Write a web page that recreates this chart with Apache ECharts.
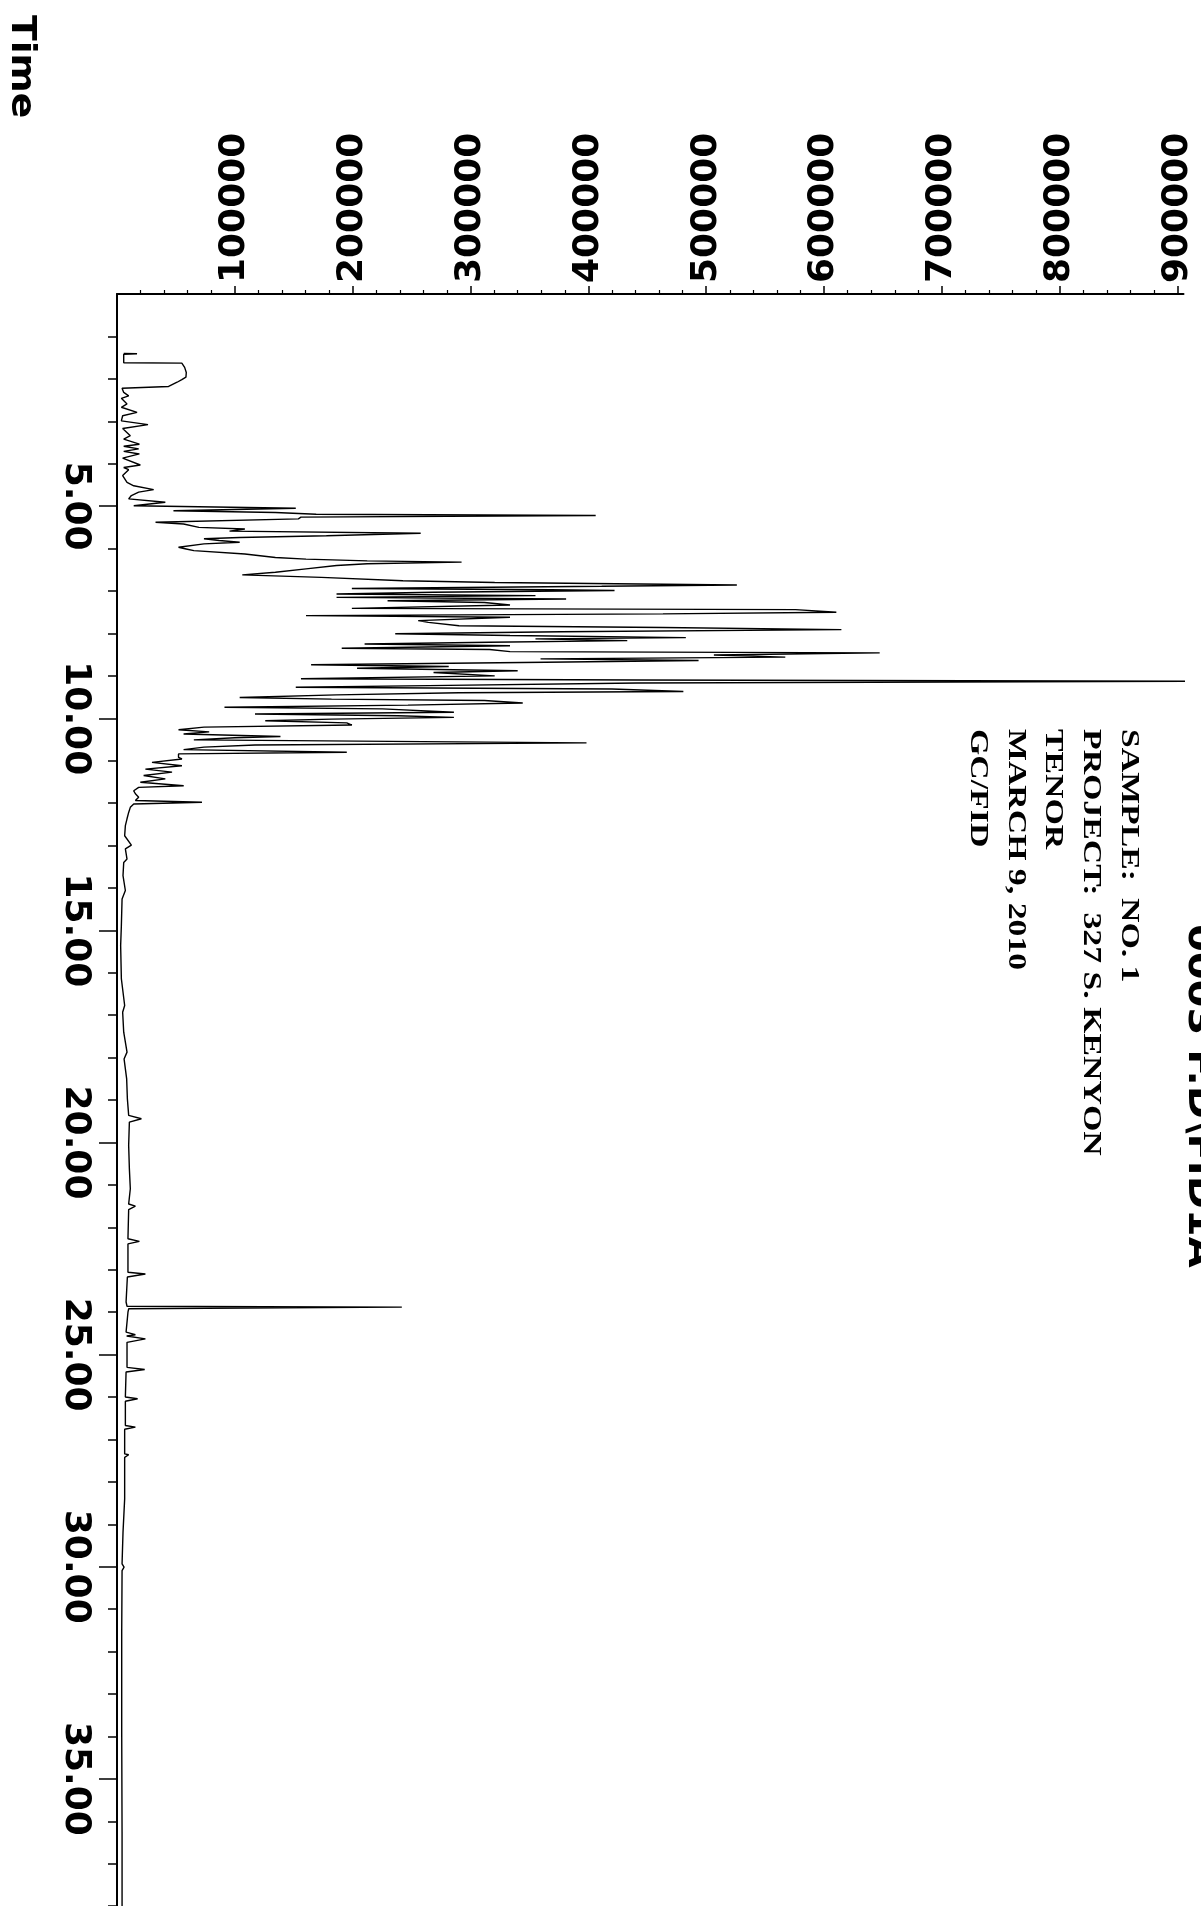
<!DOCTYPE html>
<html><head><meta charset="utf-8">
<script src="https://cdn.jsdelivr.net/npm/echarts@6/dist/echarts.min.js"></script>
<style>html,body{margin:0;padding:0;background:#fff}#c{width:1201px;height:1906px}</style>
</head><body><div id="c"></div>
<script>
// retention time (min)
const timeMin = [
1.40,1.41,1.42,1.62,1.63,1.73,1.85,1.96,2.02,2.08,2.18,2.22,2.32,2.40,2.46,2.59,2.67,2.79,2.87,2.99,
3.08,3.17,3.34,3.42,3.54,3.59,3.65,3.71,3.77,3.87,4.03,4.09,4.14,4.28,4.44,4.52,4.61,4.67,4.75,4.83,
4.91,4.99,5.03,
5.05,5.11,5.15,5.19,5.22,5.26,5.30,5.38,5.42,5.50,5.54,5.59,5.64,5.70,5.74,5.77,5.81,5.85,5.89,5.97,
6.01,6.05,6.13,6.21,6.25,6.29,6.32,6.36,6.40,6.48,6.56,6.62,6.68,6.76,6.80,6.86,6.89,6.94,6.97,6.99,
7.03,7.07,7.11,7.15,7.19,7.23,7.27,7.33,7.41,7.44,7.50,7.54,7.58,7.62,7.70,7.74,7.82,7.86,7.91,7.96,
8.01,8.05,8.10,8.13,8.17,8.21,8.25,8.29,8.35,8.38,8.43,8.46,8.51,8.56,8.60,8.64,8.68,8.74,8.78,8.82,
8.88,8.92,9.00,9.07,9.10,9.13,9.17,9.23,9.27,9.31,9.37,9.40,9.45,9.51,9.55,9.58,9.64,9.69,9.74,9.78,
9.86,9.90,9.94,9.98,10.02,10.06,10.11,10.16,10.21,10.27,10.32,10.37,10.43,10.46,10.51,10.58,10.63,10.68,10.74,10.80,
10.84,10.92,
10.96,11.04,11.12,11.20,11.27,11.35,11.43,11.51,11.59,11.63,11.71,11.78,11.86,11.94,11.98,12.02,12.10,12.22,12.37,12.53,
12.77,12.99,13.08,13.32,13.40,13.71,14.06,14.26,14.89,15.36,16.14,16.77,16.93,17.40,17.87,18.03,
18.50,18.97,19.36,19.44,19.52,20.07,20.62,21.09,21.45,21.50,21.58,22.27,22.33,22.39,23.06,23.10,23.17,23.76,23.86,23.88,
23.92,24.00,24.47,24.53,24.56,24.63,24.71,25.30,25.35,25.41,26.00,26.04,26.10,26.67,26.71,26.76,27.34,27.36,27.42,28.40,
29.19,29.93,30.01,30.09,31.54,33.90,36.26,38.00
];
// abundance (counts)
const abundance = [
5700,17000,5700,5700,55000,57400,58800,58500,55000,51000,43800,4300,5700,9900,3700,8500,3700,17000,4800,3700,
26300,4800,11300,5700,19000,5700,18400,5700,19000,4800,19800,5700,9900,4800,8500,14200,31100,18400,12200,9900,
41000,14200,12700,
151700,47900,134400,169000,406200,156100,153900,32700,56500,69500,108500,95500,257700,177700,104100,73800,86800,104100,73800,52200,
58700,65200,108500,134400,160400,212300,292400,212300,186300,160400,134400,106300,173400,242600,320500,526000,411300,199300,368100,422200,
268600,186300,355100,186300,381100,229600,311800,333500,199300,575800,610400,463300,160400,333500,255600,264200,290200,463300,614700,376700,
236100,333500,482700,355100,433000,316200,210100,333500,190700,316200,333500,647200,506500,567100,359400,493500,363700,164700,281500,203700,
340000,268600,320500,156100,441600,915000,441600,264200,151700,420000,480600,290200,186300,104100,182000,311800,344300,246900,91200,225300,
285900,117100,238300,285900,182000,125800,195000,199300,73800,52200,78200,56500,138700,99800,65200,398400,117100,73800,56500,195000,
52200,52200,
55100,29700,55100,24100,46700,22600,41000,19800,56600,18400,14200,15600,18400,15600,72100,14200,11300,9900,8500,7100,
6500,12200,7100,8500,5700,5100,7100,4300,3700,3100,3700,6500,4800,5700,8500,6000,
8200,8800,9900,20700,10500,9900,10500,11300,9900,15600,9900,9300,19000,9300,9300,24100,8800,7700,8500,241700,
9900,9300,7700,15600,8200,24100,8500,8500,23500,7700,7100,17500,7100,7100,15600,6500,6500,9900,6500,6500,
5100,4300,6000,4300,4000,4000,4300,4300
];
const abundanceTickValues = [100000,200000,300000,400000,500000,600000,700000,800000,900000];
const abundanceTickLabels = ['100000','200000','300000','400000','500000','600000','700000','800000','900000'];
const timeTickValues = [5,10,15,20,25,30,35];
const timeTickLabels = ['5.00','10.00','15.00','20.00','25.00','30.00','35.00'];
const infoLines = ['SAMPLE:  NO. 1','PROJECT:  327 S. KENYON','TENOR','MARCH 9, 2010','GC/FID'];
const titleText = '0003 F.D\\FID1A';
const axisName = 'Time';

const chart = echarts.init(document.getElementById('c'), null, {renderer:'canvas'});
const pts = timeMin.map((t,i)=>[abundance[i], t]);
const lab = (vals, labels) => v => { const i = vals.indexOf(Math.round(v*1000)/1000); return i>=0 ? labels[i] : ''; };
const infoX = [1128.5, 1090.5, 1053, 1016, 978];
const rot = -Math.PI/2;
const txt = (x,y,text,font,sx) => ({type:'text', x, y, rotation:rot, scaleX:sx, silent:true,
  style:{text, font, fill:'#000', align:'left', verticalAlign:'middle', textAlign:'left', textVerticalAlign:'middle'}});

chart.setOption({
  animation:false,
  backgroundColor:'#fff',
  grid:{left:117, right:17.5, top:294, bottom:-85, containLabel:false, outerBoundsMode:'none'},
  xAxis:{type:'value', position:'top', min:0, max:905000, interval:100000,
    axisLine:{onZero:false, lineStyle:{color:'#000', width:2}},
    axisTick:{show:true, length:8, customValues:abundanceTickValues, lineStyle:{color:'#000', width:1.5}},
    minorTick:{show:true, splitNumber:5, length:4, lineStyle:{color:'#000', width:1.2}},
    splitLine:{show:false},
    axisLabel:{rotate:-90, margin:11, fontSize:36, fontWeight:'bold', fontFamily:'DejaVu Sans', color:'#000',
      align:'left', verticalAlign:'middle', customValues:abundanceTickValues,
      formatter: lab(abundanceTickValues, abundanceTickLabels)}},
  yAxis:{type:'value', inverse:true, min:0, max:40, interval:5,
    axisLine:{onZero:false, lineStyle:{color:'#000', width:2}},
    axisTick:{show:true, length:18, customValues:timeTickValues, lineStyle:{color:'#000', width:1.5}},
    minorTick:{show:true, splitNumber:5, length:9, lineStyle:{color:'#000', width:1.5}},
    splitLine:{show:false},
    axisLabel:{rotate:-90, margin:24, fontSize:36, fontWeight:'bold', fontFamily:'DejaVu Sans', color:'#000',
      customValues:timeTickValues, formatter: lab(timeTickValues, timeTickLabels)}},
  series:[{type:'line', data:pts, showSymbol:false, symbol:'none', clip:true, silent:true,
    lineStyle:{color:'#000', width:1.4}}],
  graphic:[
    txt(21, 15, axisName, 'bold 33px "DejaVu Sans"', 1.14),
    txt(1198.5, 924, titleText, 'bold 36px "DejaVu Sans"', 1.11),
    ...infoLines.map((s,i)=>txt(infoX[i], 729, s, 'bold 26px "Liberation Serif"', 1.3))
  ]
});
</script></body></html>
